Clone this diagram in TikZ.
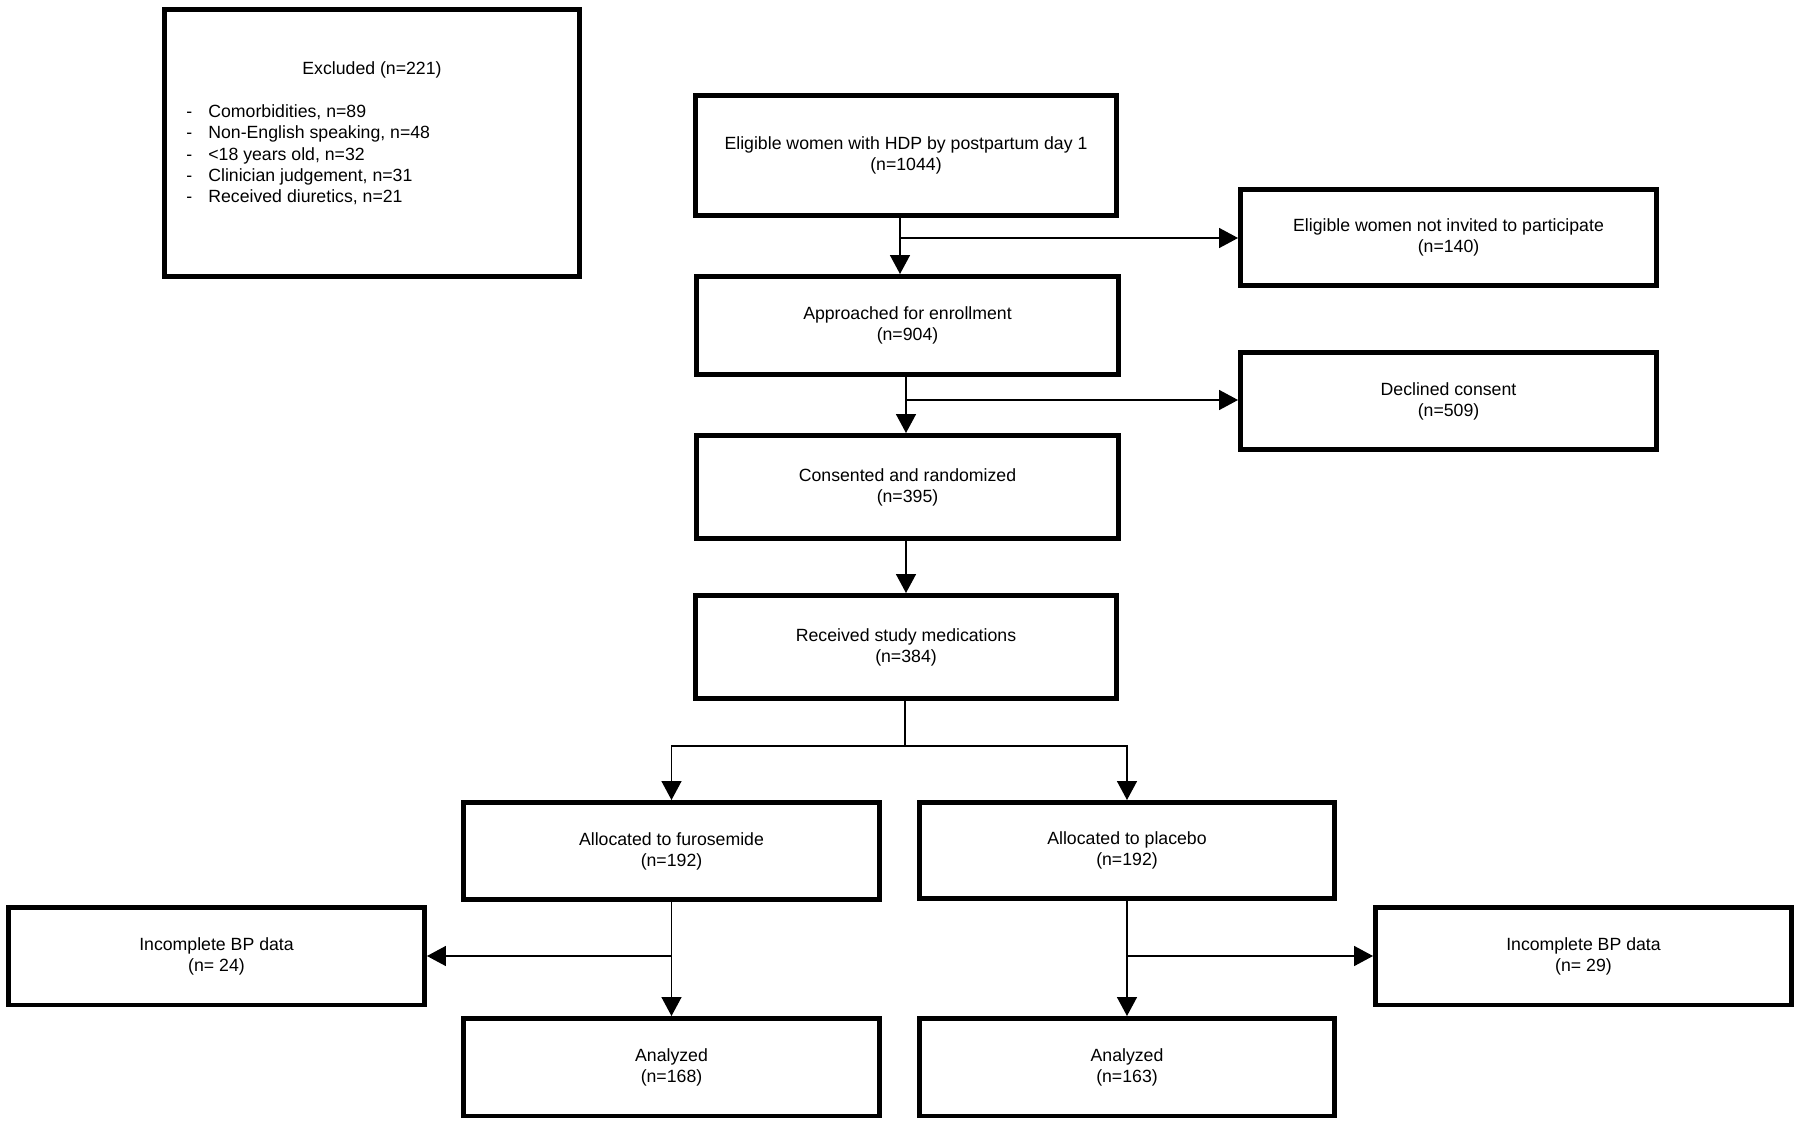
\documentclass[tikz,border=0pt]{standalone}
\usepackage{fontspec}
\setmainfont{Liberation Sans}
\usetikzlibrary{arrows.meta}

\begin{document}
\begin{tikzpicture}[
    x=0.02cm, y=-0.02cm,
    font=\fontsize{10.07}{12}\selectfont,
    stage/.style={draw, line width=0.09cm, align=center, inner sep=0pt,
      minimum width=8.45cm, minimum height=2.07cm},
    side/.style={draw, line width=0.09cm, align=center, inner sep=0pt,
      minimum width=8.33cm, minimum height=1.95cm},
    %   side/.style={draw, rounded corners, align=center},
    arrow/.style={line width=0.03cm, -{Triangle[length=0.38cm,width=0.4cm]}},
    line/.style={line width=0.03cm}
   ]
   \useasboundingbox (0,0) rectangle (1800,1126);

   % excluded box, top left
   \node[side, minimum width=8.31cm, minimum height=5.35cm] (excl) at (372,143) {};
   \node[anchor=base] (excltitle) at (372,74) {Excluded (n=221)};
   \node[anchor=north west, inner sep=0pt, align=left,
     font=\fontsize{10.07}{12.2}\selectfont] (excllist) at (186,104)
     {\makebox[0.44cm][l]{-}Comorbidities, n=89\\
      \makebox[0.44cm][l]{-}Non-English speaking, n=48\\
      \makebox[0.44cm][l]{-}<18 years old, n=32\\
      \makebox[0.44cm][l]{-}Clinician judgement, n=31\\
      \makebox[0.44cm][l]{-}Received diuretics, n=21};

   % main column
   \node[stage, minimum width=8.43cm, minimum height=2.41cm] (elig) at (906,155.5)
     {Eligible women with HDP by postpartum day 1\\(n=1044)};
   \node[stage, minimum height=1.97cm] (appr) at (907.5,325.5)
     {Approached for enrollment\\(n=904)};
   \node[stage] (cons) at (907.5,487)
     {Consented and randomized\\(n=395)};
   \node[stage, minimum width=8.43cm] (recv) at (906,647)
     {Received study medications\\(n=384)};

   % right side
   \node[side, minimum height=1.93cm] (notinv) at (1448.5,237.5)
     {Eligible women not invited to participate\\(n=140)};
   \node[side] (decl) at (1448.5,401)
     {Declined consent\\(n=509)};

   % two arms
   \node[side] (furo) at (671.5,851)
     {Allocated to furosemide\\(n=192)};
   \node[side, minimum width=8.31cm, minimum height=1.93cm] (plac) at (1127,850.5)
     {Allocated to placebo\\(n=192)};
   \node[side] (incL) at (216.5,956)
     {Incomplete BP data\\(n= 24)};
   \node[side] (incR) at (1583.5,956)
     {Incomplete BP data\\(n= 29)};
   \node[side] (anaL) at (671.5,1067)
     {Analyzed\\(n=168)};
   \node[side, minimum width=8.31cm] (anaR) at (1127,1067)
     {Analyzed\\(n=163)};

   \coordinate (b0) at (900,218);
   \coordinate (b1) at (900,238);
   \coordinate (b2) at (906,400);
   \coordinate (split) at (905,746);
   \coordinate (b3) at (671.5,956);
   \coordinate (b4) at (1127,956);

   \draw[arrow] (elig.south -| b0) -- (b0 |- appr.north);
   \draw[arrow] (b1) -- (b1 -| notinv.west);
   \draw[arrow] (appr.south -| b2) -- (b2 |- cons.north);
   \draw[arrow] (b2) -- (b2 -| decl.west);
   \draw[arrow] (cons.south -| b2) -- (b2 |- recv.north);
   \draw[line] (recv.south -| split) -- (split);
   \draw[arrow] (split) -| (furo.north);
   \draw[arrow] (split) -| (plac.north);
   \draw[arrow] (furo.south) -- (anaL.north);
   \draw[arrow] (b3) -- (incL.east);
   \draw[arrow] (plac.south) -- (anaR.north);
   \draw[arrow] (b4) -- (incR.west);
  \end{tikzpicture}
\end{document}
